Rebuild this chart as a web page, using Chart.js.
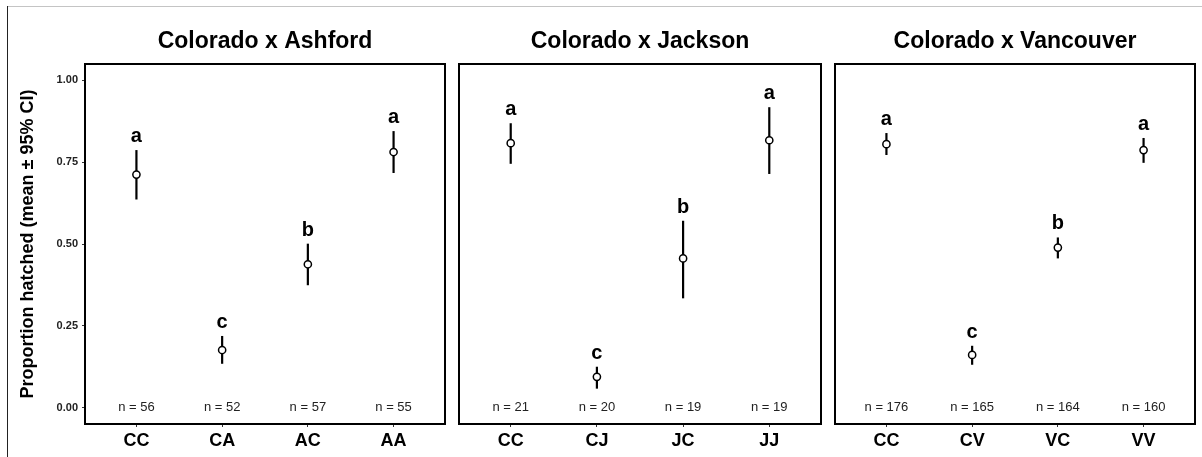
<!DOCTYPE html>
<html><head><meta charset="utf-8">
<script src="https://cdn.jsdelivr.net/npm/chart.js@4.4.0/dist/chart.umd.min.js"></script>
<style>
html,body{margin:0;padding:0;background:#fff;width:1202px;height:457px;overflow:hidden;position:relative}
canvas{position:absolute;top:0}
#hline{position:absolute;left:7px;top:6px;width:1195px;height:1px;background:#c4c4c4}
#vline{position:absolute;left:7px;top:6px;width:1px;height:451px;background:#222}
</style></head><body>
<div id="hline"></div><div id="vline"></div>
<canvas id="c0" width="452" height="457" style="left:0"></canvas>
<canvas id="c1" width="376" height="457" style="left:452px"></canvas>
<canvas id="c2" width="374" height="457" style="left:828px"></canvas>
<script>
const FONT = '"Liberation Sans", Arial, Helvetica, sans-serif';
const yTitle = 'Proportion hatched (mean ± 95% CI)';
const yTicks = [0, 0.25, 0.5, 0.75, 1];

const titleAshford = 'Colorado x Ashford';
const catsAshford = ['CC', 'CA', 'AC', 'AA'];
const meanAshford = [0.712, 0.176, 0.438, 0.781];
const loAshford = [0.636, 0.134, 0.374, 0.717];
const hiAshford = [0.787, 0.219, 0.501, 0.845];
const lettersAshford = ['a', 'c', 'b', 'a'];
const nAshford = [56, 52, 57, 55];

const titleJackson = 'Colorado x Jackson';
const catsJackson = ['CC', 'CJ', 'JC', 'JJ'];
const meanJackson = [0.808, 0.094, 0.456, 0.817];
const loJackson = [0.745, 0.058, 0.334, 0.714];
const hiJackson = [0.869, 0.125, 0.571, 0.918];
const lettersJackson = ['a', 'c', 'b', 'a'];
const nJackson = [21, 20, 19, 19];

const titleVancouver = 'Colorado x Vancouver';
const catsVancouver = ['CC', 'CV', 'VC', 'VV'];
const meanVancouver = [0.805, 0.161, 0.489, 0.787];
const loVancouver = [0.772, 0.131, 0.456, 0.748];
const hiVancouver = [0.839, 0.189, 0.520, 0.824];
const lettersVancouver = ['a', 'c', 'b', 'a'];
const nVancouver = [176, 165, 164, 160];

const panels = [
  {title: titleAshford, cats: catsAshford, mean: meanAshford, lo: loAshford, hi: hiAshford, letters: lettersAshford, n: nAshford},
  {title: titleJackson, cats: catsJackson, mean: meanJackson, lo: loJackson, hi: hiJackson, letters: lettersJackson, n: nJackson},
  {title: titleVancouver, cats: catsVancouver, mean: meanVancouver, lo: loVancouver, hi: hiVancouver, letters: lettersVancouver, n: nVancouver}
];

function makePlugin(panel) {
  return {
    id: 'panelDeco',
    beforeDatasetsDraw(chart) {
      const {ctx, scales: {x, y}} = chart;
      ctx.save();
      ctx.strokeStyle = '#000';
      ctx.lineWidth = 2.2;
      panel.lo.forEach((lo, i) => {
        const px = x.getPixelForValue(i + 1);
        ctx.beginPath();
        ctx.moveTo(px, y.getPixelForValue(lo));
        ctx.lineTo(px, y.getPixelForValue(panel.hi[i]));
        ctx.stroke();
      });
      ctx.restore();
    },
    afterDraw(chart) {
      const {ctx, chartArea: a, scales: {x, y}} = chart;
      ctx.save();
      ctx.fillStyle = '#000';
      ctx.textAlign = 'center';
      ctx.textBaseline = 'alphabetic';
      ctx.font = 'bold 20px ' + FONT;
      panel.letters.forEach((l, i) => {
        ctx.fillText(l, x.getPixelForValue(i + 1), y.getPixelForValue(panel.hi[i]) - 8);
      });
      ctx.font = '13px ' + FONT;
      ctx.fillStyle = '#222';
      ctx.textBaseline = 'middle';
      panel.n.forEach((n, i) => {
        ctx.fillText('n = ' + n, x.getPixelForValue(i + 1), y.getPixelForValue(0));
      });
      ctx.strokeStyle = '#000';
      ctx.lineWidth = 2;
      ctx.strokeRect(a.left, a.top, a.right - a.left, a.bottom - a.top);
      ctx.restore();
    }
  };
}

function makeChart(id, panel, showY) {
  new Chart(document.getElementById(id), {
    type: 'scatter',
    data: {datasets: [{
      data: panel.cats.map((c, i) => ({x: i + 1, y: panel.mean[i]})),
      pointRadius: 3.6, pointHoverRadius: 3.6,
      pointBackgroundColor: '#fff', pointBorderColor: '#000', pointBorderWidth: 1.5
    }]},
    options: {
      responsive: false, animation: false, devicePixelRatio: 1,
      events: [],
      layout: {padding: {left: showY ? 0 : 7, right: 7, top: 0, bottom: 0}},
      plugins: {
        legend: {display: false},
        tooltip: {enabled: false},
        title: {display: true, text: panel.title, fullSize: false,
          font: {family: FONT, size: 23, weight: 'bold'}, color: '#000',
          padding: {top: 28.2, bottom: 8.2}}
      },
      scales: {
        x: {
          type: 'linear', min: 0.4, max: 4.6,
          afterBuildTicks: s => { s.ticks = panel.cats.map((c, i) => ({value: i + 1})); },
          ticks: {callback: v => panel.cats[v - 1], font: {family: FONT, size: 18, weight: 'bold'},
            color: '#000', padding: 3, maxRotation: 0, autoSkip: false},
          grid: {drawOnChartArea: false, drawTicks: true, tickLength: 3, color: '#333'},
          border: {display: false},
          afterFit: s => { s.height = 33; }
        },
        y: {
          display: showY, min: -0.05, max: 1.05,
          afterBuildTicks: s => { s.ticks = yTicks.map(v => ({value: v})); },
          ticks: {callback: v => v.toFixed(2), font: {family: FONT, size: 11, weight: 'bold'}, color: '#222', padding: 4},
          grid: {drawOnChartArea: false, drawTicks: true, tickLength: 3, color: '#333'},
          border: {display: false},
          title: {display: true, text: yTitle, font: {family: FONT, size: 18, weight: 'bold'}, color: '#000',
            padding: {top: 17, bottom: 0}},
          afterFit: s => { s.width = showY ? 85 : 0; }
        }
      }
    },
    plugins: [makePlugin(panel)]
  });
}

makeChart('c0', panels[0], true);
makeChart('c1', panels[1], false);
makeChart('c2', panels[2], false);
</script>
</body></html>
